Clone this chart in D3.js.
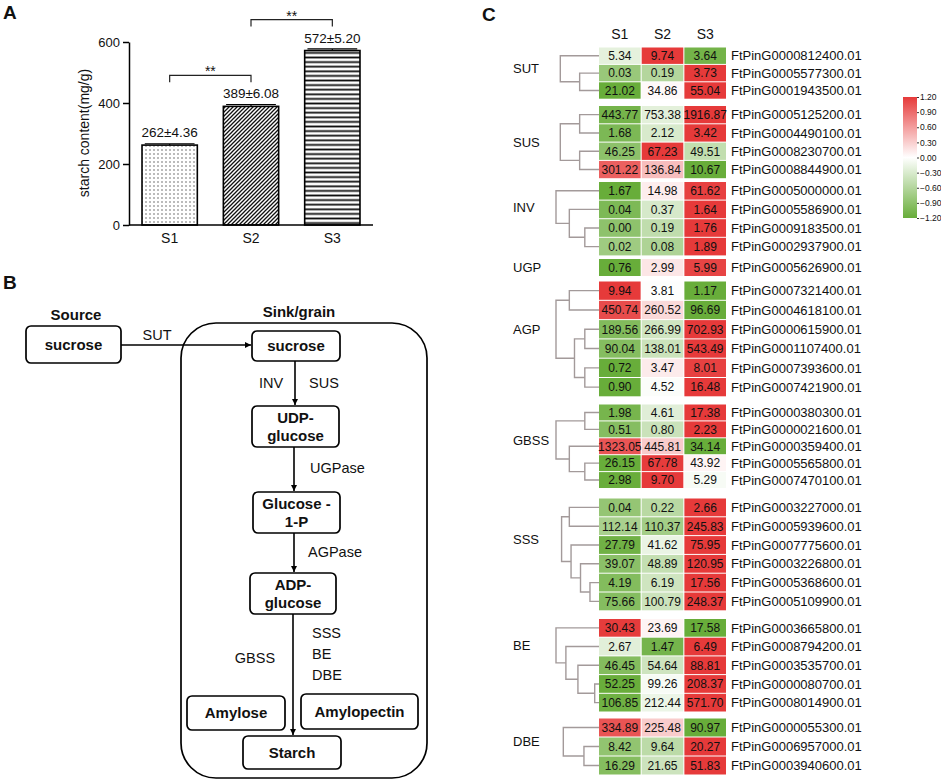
<html>

<head>
    <meta charset="utf-8">
    <title>Starch content and starch synthesis genes</title>

    <style>
        body {
            padding: 0;
            margin: 0;
            background: white;
            font-family: "Liberation Sans", Arial, sans-serif;
        }

        svg text {
            font-family: "Liberation Sans", Arial, sans-serif;
            fill: #111;
        }

        .axis path,
        .axis line {
            stroke: black;
            stroke-width: 1.5;
        }

        .box {
            fill: white;
            stroke: black;
            stroke-width: 1.7;
        }

        .flow {
            stroke: black;
            stroke-width: 1.6;
            fill: none;
        }

        .dendro {
            stroke: #a39a9a;
            stroke-width: 1.4;
            fill: none;
        }

        .bold {
            font-weight: bold;
        }
    </style>
</head>

<body>

    <svg id="fig" width="941" height="780"></svg>

    <script src="https://d3js.org/d3.v7.min.js"></script>

    <script>
        // ---- panel A data
        var stages = ["S1", "S2", "S3"];
        var starch = [262, 389, 572];
        var starchSd = [4.36, 6.08, 5.20];
        var starchTicks = [0, 200, 400, 600];
        var signifPairs = [["S1", "S2"], ["S2", "S3"]];
        var signifMarks = ["**", "**"];

        // ---- panel C data
        var families = ["SUT", "SUS", "INV", "UGP", "AGP", "GBSS", "SSS", "BE", "DBE"];
        var familySize = [3, 4, 4, 1, 6, 5, 6, 5, 3];
        var geneIds = [
            "FtPinG0000812400.01", "FtPinG0005577300.01", "FtPinG0001943500.01",
            "FtPinG0005125200.01", "FtPinG0004490100.01", "FtPinG0008230700.01", "FtPinG0008844900.01",
            "FtPinG0005000000.01", "FtPinG0005586900.01", "FtPinG0009183500.01", "FtPinG0002937900.01",
            "FtPinG0005626900.01",
            "FtPinG0007321400.01", "FtPinG0004618100.01", "FtPinG0000615900.01", "FtPinG0001107400.01",
            "FtPinG0007393600.01", "FtPinG0007421900.01",
            "FtPinG0000380300.01", "FtPinG0000021600.01", "FtPinG0000359400.01", "FtPinG0005565800.01",
            "FtPinG0007470100.01",
            "FtPinG0003227000.01", "FtPinG0005939600.01", "FtPinG0007775600.01", "FtPinG0003226800.01",
            "FtPinG0005368600.01", "FtPinG0005109900.01",
            "FtPinG0003665800.01", "FtPinG0008794200.01", "FtPinG0003535700.01", "FtPinG0000080700.01",
            "FtPinG0008014900.01",
            "FtPinG0000055300.01", "FtPinG0006957000.01", "FtPinG0003940600.01"
        ];
        var exprS1 = [5.34, 0.03, 21.02, 443.77, 1.68, 46.25, 301.22, 1.67, 0.04, 0.00, 0.02, 0.76,
            9.94, 450.74, 189.56, 90.04, 0.72, 0.90, 1.98, 0.51, 1323.05, 26.15, 2.98,
            0.04, 112.14, 27.79, 39.07, 4.19, 75.66, 30.43, 2.67, 46.45, 52.25, 106.85, 334.89, 8.42, 16.29];
        var exprS2 = [9.74, 0.19, 34.86, 753.38, 2.12, 67.23, 136.84, 14.98, 0.37, 0.19, 0.08, 2.99,
            3.81, 260.52, 266.99, 138.01, 3.47, 4.52, 4.61, 0.80, 445.81, 67.78, 9.70,
            0.22, 110.37, 41.62, 48.89, 6.19, 100.79, 23.69, 1.47, 54.64, 99.26, 212.44, 225.48, 9.64, 21.65];
        var exprS3 = [3.64, 3.73, 55.04, 1916.87, 3.42, 49.51, 10.67, 61.62, 1.64, 1.76, 1.89, 5.99,
            1.17, 96.69, 702.93, 543.49, 8.01, 16.48, 17.38, 2.23, 34.14, 43.92, 5.29,
            2.66, 245.83, 75.95, 120.95, 17.56, 248.37, 17.58, 6.49, 88.81, 208.37, 571.70, 90.97, 20.27, 51.83];
        // clustering per family: [height, left, right], leaves = row index inside the family
        var familyTrees = [
            [0.90, 0, [0.45, 1, 2]],
            [0.90, [0.45, 0, 1], [0.45, 2, 3]],
            [1.00, 0, [0.69, 1, [0.33, 2, 3]]],
            null,
            [1.00, [0.69, 0, 1], [0.57, [0.33, 2, 3], [0.33, 4, 5]]],
            [1.00, [0.33, 0, 1], [0.69, 2, [0.33, 3, 4]]],
            [0.87, [0.69, 0, 1], [0.65, 2, [0.43, 3, [0.21, 4, 5]]]],
            [1.00, 0, [0.77, 1, [0.49, 2, [0.10, 3, 4]]]],
            [0.83, 0, [0.35, 1, 2]]
        ];
        var legendTicks = [-1.2, -0.9, -0.6, -0.3, 0, 0.3, 0.6, 0.9, 1.2];

        // each family block was stacked separately in the figure: top of block and row pitch
        var blockTop = [47.5, 106, 182, 259, 281.5, 404.5, 498.5, 619, 718.5];
        var blockPitch = [17.4, 18.3, 18.6, 18, 19.3, 16.9, 18.8, 18.7, 19];

        var svg = d3.select("#fig");

        function panelLabel(t, x, y) {
            svg.append("text").attr("class", "bold").attr("x", x).attr("y", y)
                .style("font-size", "19px").text(t);
        }

        // ================= A: bar chart
        panelLabel("A", 3, 19);

        var gA = svg.append("g");

        var xA = d3.scaleBand().domain(stages).range([129, 373]).paddingInner(0.32).paddingOuter(0.16);
        var yA = d3.scaleLinear().domain([0, 600]).range([225, 42]);

        var defs = svg.append("defs");

        var pDots = defs.append("pattern").attr("id", "pat-dots").attr("patternUnits", "userSpaceOnUse")
            .attr("width", 4).attr("height", 4);
        pDots.append("rect").attr("width", 4).attr("height", 4).attr("fill", "white");
        pDots.append("circle").attr("cx", 2).attr("cy", 2).attr("r", 0.75).attr("fill", "#555");

        var pDiag = defs.append("pattern").attr("id", "pat-diag").attr("patternUnits", "userSpaceOnUse")
            .attr("width", 4).attr("height", 4);
        pDiag.append("rect").attr("width", 4).attr("height", 4).attr("fill", "white");
        pDiag.append("path").attr("d", "M-1,1 l2,-2 M0,4 l4,-4 M3,5 l2,-2")
            .attr("stroke", "#111").attr("stroke-width", 1.3);

        var pHor = defs.append("pattern").attr("id", "pat-hor").attr("patternUnits", "userSpaceOnUse")
            .attr("width", 4).attr("height", 4.6);
        pHor.append("rect").attr("width", 4).attr("height", 4.6).attr("fill", "white");
        pHor.append("rect").attr("y", 1.4).attr("width", 4).attr("height", 1.8).attr("fill", "#111");

        var fills = ["url(#pat-dots)", "url(#pat-diag)", "url(#pat-hor)"];

        gA.selectAll("rect.bar")
            .data(stages)
            .enter()
            .append("rect")
            .attr("class", "bar")
            .attr("x", function (d) { return xA(d); })
            .attr("y", function (d, i) { return yA(starch[i]); })
            .attr("width", xA.bandwidth())
            .attr("height", function (d, i) { return yA(0) - yA(starch[i]); })
            .attr("fill", function (d, i) { return fills[i]; })
            .attr("stroke", "black")
            .attr("stroke-width", 1.6);

        // error bars
        gA.selectAll("path.err")
            .data(stages)
            .enter()
            .append("path")
            .attr("class", "err")
            .attr("d", function (d, i) {
                var cx = xA(d) + xA.bandwidth() / 2,
                    hw = xA.bandwidth() * 0.45,
                    top = yA(starch[i] + starchSd[i]);
                return "M" + cx + "," + yA(starch[i]) + "V" + top + "M" + (cx - hw) + "," + top + "H" + (cx + hw);
            })
            .attr("stroke", "black")
            .attr("stroke-width", 1.2);

        gA.selectAll("text.val")
            .data(stages)
            .enter()
            .append("text")
            .attr("class", "val")
            .attr("x", function (d) { return xA(d) + xA.bandwidth() / 2; })
            .attr("y", function (d, i) { return yA(starch[i]) - 8; })
            .attr("text-anchor", "middle")
            .style("font-size", "13.5px")
            .text(function (d, i) { return starch[i] + "\u00b1" + starchSd[i].toFixed(2); });

        gA.append("g")
            .attr("class", "axis")
            .attr("transform", "translate(129,0)")
            .call(d3.axisLeft(yA).tickValues(starchTicks).tickSize(6).tickSizeOuter(0))
            .selectAll("text").style("font-size", "13px").attr("fill", "#111");

        var xAxisA = gA.append("g")
            .attr("class", "axis")
            .attr("transform", "translate(0,225)")
            .call(d3.axisBottom(xA).tickSize(0).tickSizeOuter(0).tickPadding(8));
        xAxisA.select(".domain").attr("d", "M129,0H373");
        xAxisA.selectAll("text").style("font-size", "14px").attr("fill", "#111");

        gA.append("text")
            .attr("transform", "translate(89,133) rotate(-90)")
            .attr("text-anchor", "middle")
            .style("font-size", "14px")
            .text("starch content(mg/g)");

        // significance brackets
        signifPairs.forEach(function (pair, k) {
            var x1 = xA(pair[0]) + xA.bandwidth() / 2,
                x2 = xA(pair[1]) + xA.bandwidth() / 2,
                top = Math.max(starch[stages.indexOf(pair[0])], starch[stages.indexOf(pair[1])]),
                by = yA(top) - 31;
            gA.append("path")
                .attr("d", "M" + x1 + "," + (by + 7) + "V" + by + "H" + x2 + "V" + (by + 7))
                .attr("fill", "none").attr("stroke", "#222").attr("stroke-width", 1.2);
            gA.append("text")
                .attr("x", (x1 + x2) / 2).attr("y", by + 1)
                .attr("text-anchor", "middle")
                .style("font-size", "14px")
                .text(signifMarks[k]);
        });

        // ================= B: pathway diagram
        panelLabel("B", 3, 289);

        var gB = svg.append("g");

        var marker = defs.append("marker").attr("id", "arrow").attr("viewBox", "0 0 10 10")
            .attr("refX", 10).attr("refY", 5).attr("markerWidth", 6).attr("markerHeight", 6)
            .attr("markerUnits", "userSpaceOnUse").attr("orient", "auto");
        marker.append("path").attr("d", "M0,0L10,5L0,10z").attr("fill", "black");

        gB.append("rect").attr("class", "box")
            .attr("x", 181).attr("y", 323).attr("width", 246).attr("height", 455).attr("rx", 35);

        gB.append("text").attr("class", "bold").attr("x", 76).attr("y", 320)
            .attr("text-anchor", "middle").style("font-size", "15px").text("Source");
        gB.append("text").attr("class", "bold").attr("x", 299).attr("y", 317)
            .attr("text-anchor", "middle").style("font-size", "15px").text("Sink/grain");

        var flowNodes = [
            { lines: ["sucrose"], x: 26, y: 326, w: 95, h: 37 },
            { lines: ["sucrose"], x: 252, y: 331, w: 88, h: 30 },
            { lines: ["UDP-", "glucose"], x: 252, y: 406, w: 87, h: 41 },
            { lines: ["Glucose -", "1-P"], x: 253, y: 492, w: 87, h: 41 },
            { lines: ["ADP-", "glucose"], x: 250, y: 573, w: 86, h: 41 },
            { lines: ["Amylose"], x: 187, y: 696, w: 98, h: 34 },
            { lines: ["Amylopectin"], x: 301, y: 694, w: 117, h: 35 },
            { lines: ["Starch"], x: 243, y: 736, w: 98, h: 33 }
        ];

        var nodeG = gB.selectAll("g.node")
            .data(flowNodes)
            .enter()
            .append("g")
            .attr("class", "node");

        nodeG.append("rect").attr("class", "box")
            .attr("x", function (d) { return d.x; })
            .attr("y", function (d) { return d.y; })
            .attr("width", function (d) { return d.w; })
            .attr("height", function (d) { return d.h; })
            .attr("rx", 5);

        nodeG.each(function (d) {
            var g = d3.select(this),
                n = d.lines.length;
            d.lines.forEach(function (t, i) {
                g.append("text").attr("class", "bold")
                    .attr("x", d.x + d.w / 2)
                    .attr("y", d.y + d.h / 2 + (i - (n - 1) / 2) * 17.5)
                    .attr("dy", "0.36em")
                    .attr("text-anchor", "middle")
                    .style("font-size", "15px")
                    .text(t);
            });
        });

        var arrows = [
            [121, 345, 251, 345],
            [295, 361, 295, 405],
            [294, 447, 294, 491],
            [294, 533, 294, 572],
            [293, 614, 293, 735]
        ];
        gB.selectAll("line.flow")
            .data(arrows)
            .enter()
            .append("line")
            .attr("class", "flow")
            .attr("x1", function (d) { return d[0]; })
            .attr("y1", function (d) { return d[1]; })
            .attr("x2", function (d) { return d[2]; })
            .attr("y2", function (d) { return d[3]; })
            .attr("marker-end", "url(#arrow)");

        var enzymeLabels = [
            { t: "SUT", x: 157, y: 335, a: "middle" },
            { t: "INV", x: 271, y: 383, a: "middle" },
            { t: "SUS", x: 324, y: 383, a: "middle" },
            { t: "UGPase", x: 310, y: 468, a: "start" },
            { t: "AGPase", x: 308, y: 552, a: "start" },
            { t: "GBSS", x: 255, y: 658, a: "middle" },
            { t: "SSS", x: 312, y: 633, a: "start" },
            { t: "BE", x: 312, y: 654, a: "start" },
            { t: "DBE", x: 312, y: 675, a: "start" }
        ];
        gB.selectAll("text.enz")
            .data(enzymeLabels)
            .enter()
            .append("text")
            .attr("class", "enz")
            .attr("x", function (d) { return d.x; })
            .attr("y", function (d) { return d.y; })
            .attr("dy", "0.36em")
            .attr("text-anchor", function (d) { return d.a; })
            .style("font-size", "14.5px")
            .text(function (d) { return d.t; });

        // ================= C: heatmap
        panelLabel("C", 482, 21);

        var gC = svg.append("g");

        var rows = [];
        var k = 0;
        familySize.forEach(function (n, f) {
            for (var j = 0; j < n; j++) {
                var vals = [exprS1[k], exprS2[k], exprS3[k]];
                var lg = vals.map(function (v) { return Math.log2(v + 1); });
                var m = d3.mean(lg),
                    sd = Math.sqrt(d3.mean(lg, function (v) { return (v - m) * (v - m); }));
                rows.push({
                    id: geneIds[k],
                    fam: f,
                    pos: j,
                    vals: vals,
                    z: lg.map(function (v) { return sd > 0 ? (v - m) / sd : 0; })
                });
                k++;
            }
        });

        // one y scale per family block
        var yBlock = blockTop.map(function (t, f) {
            return d3.scaleLinear().domain([0, 1]).range([t, t + blockPitch[f]]);
        });
        function rowTop(r) { return yBlock[r.fam](r.pos); }
        function rowH(r) { return blockPitch[r.fam] - 1; }

        var xC = d3.scaleBand().domain(stages).range([599, 726]).paddingInner(0.025);
        var color = d3.scaleLinear().domain([-1.2, 0, 1.2])
            .range(["#68ad3a", "#ffffff", "#e63a3a"]).clamp(true);

        gC.selectAll("text.head")
            .data(stages)
            .enter()
            .append("text")
            .attr("class", "head")
            .attr("x", function (d) { return xC(d) + xC.bandwidth() / 2; })
            .attr("y", 34)
            .attr("dy", "0.36em")
            .attr("text-anchor", "middle")
            .style("font-size", "14px")
            .text(function (d) { return d; });

        var rowG = gC.selectAll("g.row")
            .data(rows)
            .enter()
            .append("g")
            .attr("class", "row")
            .attr("transform", function (d) { return "translate(0," + rowTop(d) + ")"; });

        rowG.each(function (r) {
            var g = d3.select(this),
                h = rowH(r);
            g.selectAll("rect")
                .data(r.z)
                .enter()
                .append("rect")
                .attr("x", function (d, i) { return xC(stages[i]); })
                .attr("width", xC.bandwidth())
                .attr("height", h)
                .attr("fill", function (d) { return color(d); });

            g.selectAll("text.cell")
                .data(r.vals)
                .enter()
                .append("text")
                .attr("class", "cell")
                .attr("x", function (d, i) { return xC(stages[i]) + xC.bandwidth() / 2; })
                .attr("y", h / 2)
                .attr("dy", "0.36em")
                .attr("text-anchor", "middle")
                .style("font-size", "12px")
                .text(function (d) { return d3.format(".2f")(d); });

            g.append("text")
                .attr("x", 731)
                .attr("y", h / 2)
                .attr("dy", "0.36em")
                .style("font-size", "13px")
                .text(r.id);
        });

        // dendrograms
        var xTree = d3.scaleLinear().domain([0, 1]).range([599, 556]);

        function drawTree(node, famRows) {
            if (typeof node === "number") {
                var r = famRows[node];
                return { x: xTree(0), y: rowTop(r) + rowH(r) / 2 };
            }
            var a = drawTree(node[1], famRows),
                b = drawTree(node[2], famRows),
                x = xTree(node[0]);
            gC.append("path")
                .attr("class", "dendro")
                .attr("d", "M" + a.x + "," + a.y + "H" + x + "V" + b.y + "H" + b.x);
            return { x: x, y: (a.y + b.y) / 2 };
        }

        families.forEach(function (f, i) {
            var famRows = rows.filter(function (r) { return r.fam === i; });
            var ly;
            if (familyTrees[i]) {
                ly = drawTree(familyTrees[i], famRows).y;
            } else {
                ly = rowTop(famRows[0]) + rowH(famRows[0]) / 2;
            }
            gC.append("text")
                .attr("x", 513)
                .attr("y", ly)
                .attr("dy", "0.36em")
                .style("font-size", "13px")
                .text(f);
        });

        // colour legend
        var grad = defs.append("linearGradient").attr("id", "legend-grad")
            .attr("x1", 0).attr("y1", 1).attr("x2", 0).attr("y2", 0);
        legendTicks.forEach(function (t) {
            grad.append("stop")
                .attr("offset", (t + 1.2) / 2.4)
                .attr("stop-color", color(t));
        });

        var yLeg = d3.scaleLinear().domain([-1.2, 1.2]).range([218, 97]);
        gC.append("rect")
            .attr("x", 903).attr("y", 97).attr("width", 14).attr("height", 121)
            .attr("fill", "url(#legend-grad)");

        var legAxis = gC.append("g")
            .attr("transform", "translate(917,0)")
            .call(d3.axisRight(yLeg).tickValues(legendTicks).tickSize(2).tickPadding(1)
                .tickFormat(d3.format(".2f")));
        legAxis.select(".domain").remove();
        legAxis.selectAll("line").attr("stroke", "#333");
        legAxis.selectAll("text").style("font-size", "8.5px").attr("fill", "#222");
    </script>
</body>

</html>
